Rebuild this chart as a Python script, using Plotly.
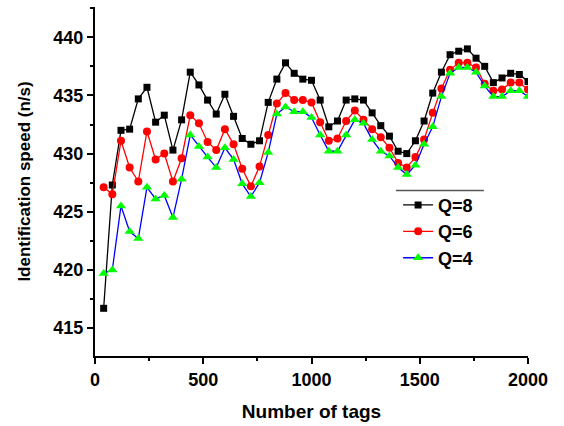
import plotly.graph_objects as go

tags = [40 * i for i in range(1, 51)]

q8 = [416.7, 427.3, 432.0, 432.1, 434.7, 435.7, 432.7, 433.3, 430.3, 432.9,
      437.0, 435.9, 434.6, 433.4, 435.1, 433.2, 431.3, 430.8, 431.1, 434.4,
      436.4, 437.8, 436.9, 436.4, 436.3, 434.6, 432.3, 432.8, 434.6, 434.7,
      434.6, 433.5, 432.4, 431.5, 430.2, 430.0, 431.1, 432.8, 435.2, 437.0,
      438.5, 438.8, 439.0, 438.2, 437.5, 436.1, 436.5, 436.9, 436.8, 436.2]

q6 = [427.1, 426.5, 431.1, 428.8, 427.6, 431.9, 429.5, 430.0, 427.6, 429.6,
      433.3, 432.6, 431.0, 430.3, 432.1, 430.8, 428.7, 427.2, 428.9, 431.6,
      434.3, 435.2, 434.6, 434.6, 434.4, 432.7, 431.1, 431.3, 432.8, 433.7,
      432.9, 432.1, 431.4, 430.5, 429.2, 428.8, 429.7, 431.2, 433.5, 435.6,
      437.2, 437.8, 437.8, 437.4, 436.0, 435.4, 435.5, 436.1, 436.1, 435.5]

q4 = [419.7, 420.0, 425.5, 423.3, 422.7, 427.1, 426.1, 426.4, 424.5, 427.8,
      431.6, 430.6, 429.7, 428.8, 430.5, 429.5, 427.4, 426.3, 427.5, 430.1,
      433.4, 434.0, 433.6, 433.6, 433.1, 431.6, 430.2, 430.2, 431.6, 432.9,
      432.6, 431.2, 430.2, 429.8, 428.8, 428.2, 429.0, 430.8, 432.3, 434.9,
      436.9, 437.4, 437.4, 437.0, 435.8, 434.9, 434.9, 435.4, 435.4, 434.9]

series_names = ["Q=8", "Q=6", "Q=4"]

FONT = "Liberation Sans"

fig = go.Figure()
fig.add_trace(go.Scatter(x=tags, y=q8, name=series_names[0], mode="lines+markers",
                         line=dict(color="black", width=1.3),
                         marker=dict(symbol="square", size=7, color="black")))
fig.add_trace(go.Scatter(x=tags, y=q6, name=series_names[1], mode="lines+markers",
                         line=dict(color="#ff0000", width=1.3),
                         marker=dict(symbol="circle", size=8, color="#ff0000")))
fig.add_trace(go.Scatter(x=tags, y=q4, name=series_names[2], mode="lines+markers",
                         line=dict(color="#0000ff", width=1.3),
                         marker=dict(symbol="triangle-up", size=9, color="#00ff00")))

fig.update_layout(
    width=564, height=426,
    margin=dict(l=95, r=36, t=7, b=70),
    paper_bgcolor="white", plot_bgcolor="white",
    font=dict(family=FONT, size=17, color="black"),
    showlegend=True,
    legend=dict(x=0.70, y=0.485, xanchor="left", yanchor="top",
                bgcolor="rgba(0,0,0,0)",
                font=dict(family=FONT, size=18, color="black", weight="bold")),
    shapes=[dict(type="line", xref="paper", yref="paper",
                 x0=0.695, x1=0.898, y0=0.474, y1=0.474,
                 line=dict(color="#555555", width=1.5))],
)

fig.update_xaxes(
    range=[0, 2000], tick0=0, dtick=500, automargin=False,
    showline=True, linecolor="black", linewidth=2,
    ticks="outside", ticklen=6, tickwidth=2, tickcolor="black",
    minor=dict(dtick=250, ticks="outside", ticklen=3, tickwidth=2, tickcolor="black"),
    showgrid=False, zeroline=False,
    tickfont=dict(family=FONT, size=18, weight="bold"),
    title=dict(text="Number of tags", font=dict(family=FONT, size=19, weight="bold"), standoff=16),
)
fig.update_yaxes(
    range=[412.6, 442.6], tick0=415, dtick=5, automargin=False,
    showline=True, linecolor="black", linewidth=2,
    ticks="outside", ticklen=6, tickwidth=2, tickcolor="black",
    minor=dict(dtick=2.5, ticks="outside", ticklen=3, tickwidth=2, tickcolor="black"),
    showgrid=False, zeroline=False,
    tickfont=dict(family=FONT, size=18, weight="bold"),
    title=dict(text="Identification speed (n/s)", font=dict(family=FONT, size=17, weight="bold"), standoff=18),
)

fig.write_html("out.html", config={"displayModeBar": False},
               post_script="document.body.style.margin='0';document.body.style.overflow='hidden';")
